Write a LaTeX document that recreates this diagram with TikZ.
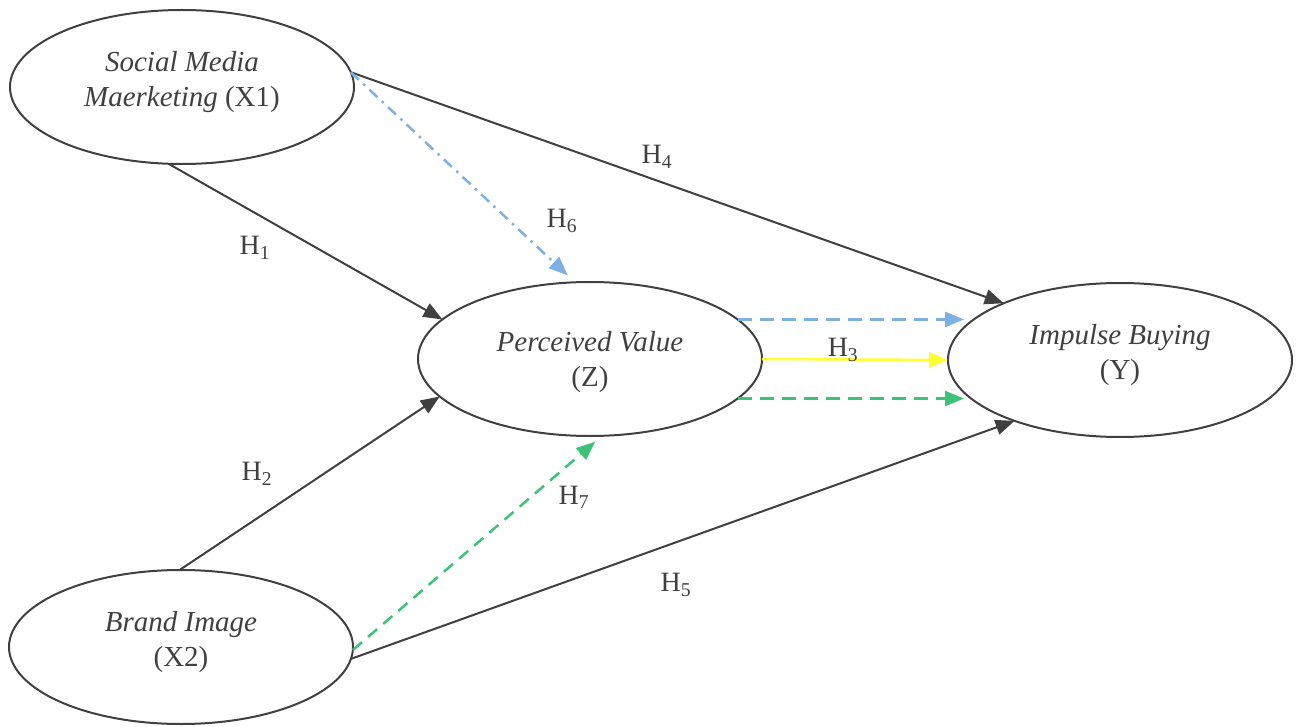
\documentclass[tikz,border=0pt]{standalone}
\usepackage{fontspec}
\setmainfont{Liberation Serif}
\usetikzlibrary{shapes.geometric,arrows.meta,calc}
\definecolor{ink}{HTML}{404040}
\definecolor{pathblue}{HTML}{7DB1E3}
\definecolor{pathyellow}{HTML}{FFFF33}
\definecolor{pathgreen}{HTML}{3DC27A}

\begin{document}
\begin{tikzpicture}[x=1pt,y=-1pt,
  construct/.style={ellipse, draw=ink, line width=2pt,
    minimum width=344pt, minimum height=154pt, inner sep=0pt, outer sep=0pt},
  constructtext/.style={align=center, text=ink, inner sep=0pt, yshift=5pt,
    font=\fontsize{29}{35}\selectfont},
  hyp/.style={text=ink, font=\fontsize{28}{30}\selectfont, inner sep=0pt},
  tip/.style={-{Triangle[length=19pt,width=15pt]}},
  direct/.style={tip, draw=ink, line width=2pt},
  viablue/.style={tip, draw=pathblue, line width=2.5pt},
  viayellow/.style={tip, draw=pathyellow, line width=2.5pt},
  viagreen/.style={tip, draw=pathgreen, line width=2.5pt},
  dashlong/.style={dash pattern=on 14pt off 8pt},
  dashshort/.style={dash pattern=on 12pt off 8pt},
  dashdotline/.style={dash pattern=on 11pt off 6pt on 2.5pt off 6pt}
]
\useasboundingbox (0,0) rectangle (1301,727);

% constructs
\node[construct, label={[constructtext]center:\textit{Social Media}\\\textit{Maerketing} (X1)}] (x1) at (182,87) {};
\node[construct, label={[constructtext]center:\textit{Brand Image}\\(X2)}] (x2) at (181,647) {};
\node[construct, label={[constructtext, yshift=-8pt]center:\textit{Perceived Value}\\(Z)}] (z) at (590,359) {};
\node[construct, label={[constructtext]center:\textit{Impulse Buying}\\(Y)}] (y) at (1120,360) {};

% direct paths
\draw[direct] (x1.5)   -- (y.154);
\draw[direct] (x1.260) -- (z.165);
\draw[direct] (x2.91)  -- (z.194);
\draw[direct] (x2.356) -- (y.210);
\draw[viayellow] (z.east) -- (y.west);

% indirect (mediated) paths
\draw[viablue, dashdotline, shorten >=10pt] (x1.5) -- (z.101);
\draw[viagreen, dashshort, shorten >=9pt] (x2.359) -- (z.279);
\draw[viablue, dashlong]  (z.15)  -- ([xshift=16pt]z.15 -| y.west);
\draw[viagreen, dashlong] (z.-15) -- ([xshift=16pt]z.-15 -| y.west);

% hypothesis labels
\node[hyp] (h1) at (255,248) {H\textsubscript{1}};
\node[hyp] (h2) at (257,474) {H\textsubscript{2}};
\node[hyp] (h3) at (843,350) {H\textsubscript{3}};
\node[hyp] (h4) at (657,157) {H\textsubscript{4}};
\node[hyp] (h5) at (676,585) {H\textsubscript{5}};
\node[hyp] (h6) at (562,221) {H\textsubscript{6}};
\node[hyp] (h7) at (574,497) {H\textsubscript{7}};
\end{tikzpicture}
\end{document}
